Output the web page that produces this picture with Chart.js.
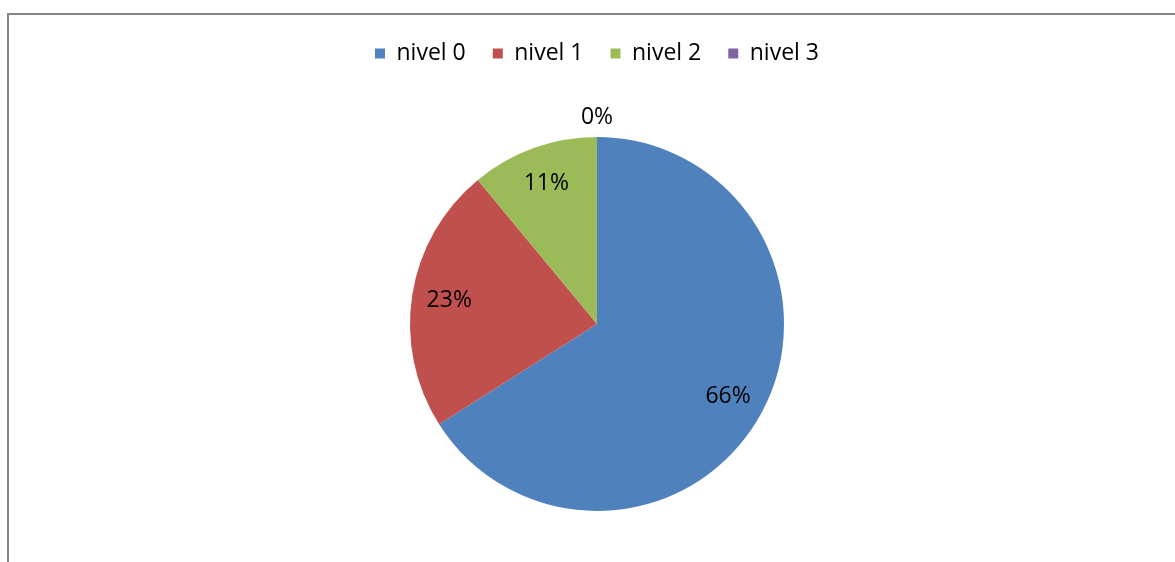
<!DOCTYPE html>
<html>
<head>
<meta charset="utf-8">
<script src="https://cdn.jsdelivr.net/npm/chart.js@4/dist/chart.umd.min.js"></script>
<style>
    html, body { margin: 0; padding: 0; background: #fff; }
    #wrap { position: relative; width: 1175px; height: 562px; }
    #frame {
        position: absolute; left: 7px; top: 13px; right: -5px; bottom: -5px;
        border-left: 2px solid #868686; border-top: 2px solid #868686;
        pointer-events: none;
    }
</style>
</head>
<body>
<div id="wrap">
    <canvas id="pieChart" width="1175" height="562"></canvas>
    <div id="frame"></div>
</div>
<script>
const labels = ["nivel 0", "nivel 1", "nivel 2", "nivel 3"];
const values = [66, 23, 11, 0];
const colors = ["#4f81bd", "#c0504d", "#9bbb59", "#8064a2"];
const FONT = "'Open Sans', sans-serif";
const PAD_TOP = 15;

// percentage labels: inside at 80% of radius, tiny slices pushed outside
const pctLabels = {
    id: "pctLabels",
    afterDatasetsDraw(chart) {
        const ctx = chart.ctx;
        const meta = chart.getDatasetMeta(0);
        ctx.save();
        ctx.font = "23px " + FONT;
        ctx.fillStyle = "#000";
        ctx.textAlign = "center";
        ctx.textBaseline = "middle";
        meta.data.forEach((arc, i) => {
            const mid = (arc.startAngle + arc.endAngle) / 2;
            let r = arc.outerRadius * 0.8;
            if (values[i] === 0) r = arc.outerRadius + 20;
            const x = arc.x + Math.cos(mid) * r;
            const y = arc.y + Math.sin(mid) * r;
            ctx.fillText(values[i] + "%", x, y);
        });
        ctx.restore();
    }
};

// make the legend block taller so the pie sits lower
const legendSpace = {
    id: "legendSpace",
    beforeInit(chart) {
        const origFit = chart.legend.fit;
        chart.legend.fit = function () {
            origFit.bind(chart.legend)();
            this.height = 86 - PAD_TOP;
        };
    }
};

new Chart(document.getElementById("pieChart"), {
    type: "pie",
    data: {
        labels: labels,
        datasets: [{
            data: values,
            backgroundColor: colors,
            borderWidth: 0
        }]
    },
    options: {
        responsive: false,
        animation: false,
        radius: 187,
        layout: { padding: { top: PAD_TOP, bottom: 0, left: 19, right: 0 } },
        plugins: {
            legend: {
                position: "top",
                labels: {
                    boxWidth: 10,
                    boxHeight: 10,
                    padding: 27,
                    color: "#000",
                    font: { family: FONT, size: 23 }
                }
            },
            tooltip: { enabled: false }
        }
    },
    plugins: [pctLabels, legendSpace]
});
</script>
</body>
</html>
